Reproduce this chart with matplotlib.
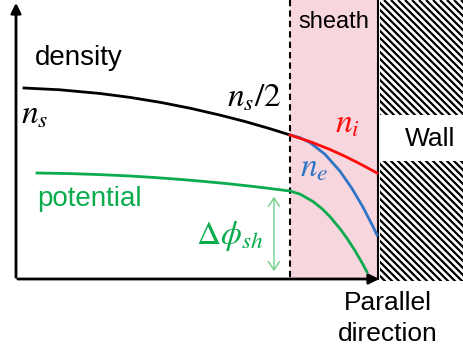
import matplotlib
matplotlib.use("Agg")
import matplotlib.pyplot as plt
from matplotlib.patches import Rectangle, FancyArrowPatch

plt.rcParams['font.family'] = ['Liberation Sans', 'DejaVu Sans']
plt.rcParams['mathtext.fontset'] = 'stix'

# schematic curves (pixel-like coordinates, y downward)
density_x = [24, 60, 100, 130, 160, 190, 220, 245, 270, 290]
density_y = [88, 89.8, 93.5, 97.4, 102.3, 108.2, 115.1, 121.5, 128.7, 135]
ni_x = [290, 310, 330, 345, 357, 368, 377]
ni_y = [135, 141.6, 149.5, 156.3, 162.3, 168.1, 173]
ne_x = [290, 300, 310, 325, 340, 352, 363, 372, 377]
ne_y = [135, 137.7, 142.6, 154.3, 171.2, 188.5, 207.2, 224.6, 235]
pot_x = [37, 70, 100, 130, 153, 180, 200, 225, 250, 270, 290,
         300, 313, 322, 330, 340, 347, 355, 362, 367]
pot_y = [173, 173.6, 174.6, 176.0, 177.4, 179.4, 181.1, 183.4, 186.1, 188.5, 191,
         194.1, 201.5, 208.7, 216.7, 228.7, 238.3, 250.7, 262.7, 272]

fig = plt.figure(figsize=(4.64, 3.56), dpi=100)
ax = fig.add_axes([0, 0, 1, 1])
ax.set_xlim(0, 464)
ax.set_ylim(356, 0)
ax.axis('off')

# sheath region
ax.add_patch(Rectangle((290, 0), 88, 279, facecolor='#f8d6de', edgecolor='none', zorder=0))
# wall hatch
wall = Rectangle((380, 0), 84, 281, facecolor='white', edgecolor='none', zorder=0)
ax.add_patch(wall)
period = 7.0
a = 380 - 290
while a < 470:
    ln, = ax.plot([a, a + 290], [0, 290], color='black', lw=1.6, zorder=0.5, solid_capstyle='butt')
    ln.set_clip_path(wall)
    a += period
ax.add_patch(Rectangle((380, 115), 84, 46, facecolor='white', edgecolor='none', zorder=1))
ax.text(430, 139, 'Wall', fontsize=19, ha='center', va='center', zorder=2)

# boundaries
ax.plot([290, 290], [0, 279], color='black', lw=1.5, ls=(0, (3, 2)), zorder=3)
ax.plot([378.5, 378.5], [0, 279], color='black', lw=1.5, zorder=3)

# axes arrows
ax.annotate('', xy=(16, 0), xytext=(16, 280),
            arrowprops=dict(arrowstyle='-|>,head_length=0.6,head_width=0.3', color='black', lw=2), zorder=4)
ax.annotate('', xy=(382, 279), xytext=(15, 279),
            arrowprops=dict(arrowstyle='-|>,head_length=0.6,head_width=0.3', color='black', lw=2), zorder=4)

# curves
ax.plot(density_x, density_y, color='black', lw=2, zorder=3)
ax.plot(ne_x, ne_y, color='#2e75c6', lw=2, zorder=3)
ax.plot(ni_x, ni_y, color='#ff0a0a', lw=2, zorder=3)
ax.plot(pot_x, pot_y, color='#0aac4e', lw=2, zorder=3)

# delta phi arrow
ax.add_patch(FancyArrowPatch((274, 194), (274, 274), arrowstyle='<->,head_length=6,head_width=4',
                             color='#6fcf8a', lw=1, zorder=3))

# labels
ax.text(35, 58, 'density', fontsize=20, ha='left', va='center')
ax.text(21, 115, r'$n_s$', fontsize=24, ha='left', va='center')
ax.text(254, 98, r'$n_s/2$', fontsize=24, ha='center', va='center')
ax.text(347, 124, r'$n_i$', fontsize=24, ha='center', va='center', color='#ff0a0a')
ax.text(314, 168, r'$n_e$', fontsize=24, ha='center', va='center', color='#2e75c6')
ax.text(37, 199, 'potential', fontsize=20, ha='left', va='center', color='#0aac4e')
ax.text(230, 236, r'$\Delta\phi_{sh}$', fontsize=24, ha='center', va='center', color='#0aac4e')
ax.text(334, 22, 'sheath', fontsize=17, ha='center', va='center')
ax.text(388, 303, 'Parallel', fontsize=19, ha='center', va='center')
ax.text(388, 334, 'direction', fontsize=19, ha='center', va='center')

fig.savefig('out.png', dpi=100)
